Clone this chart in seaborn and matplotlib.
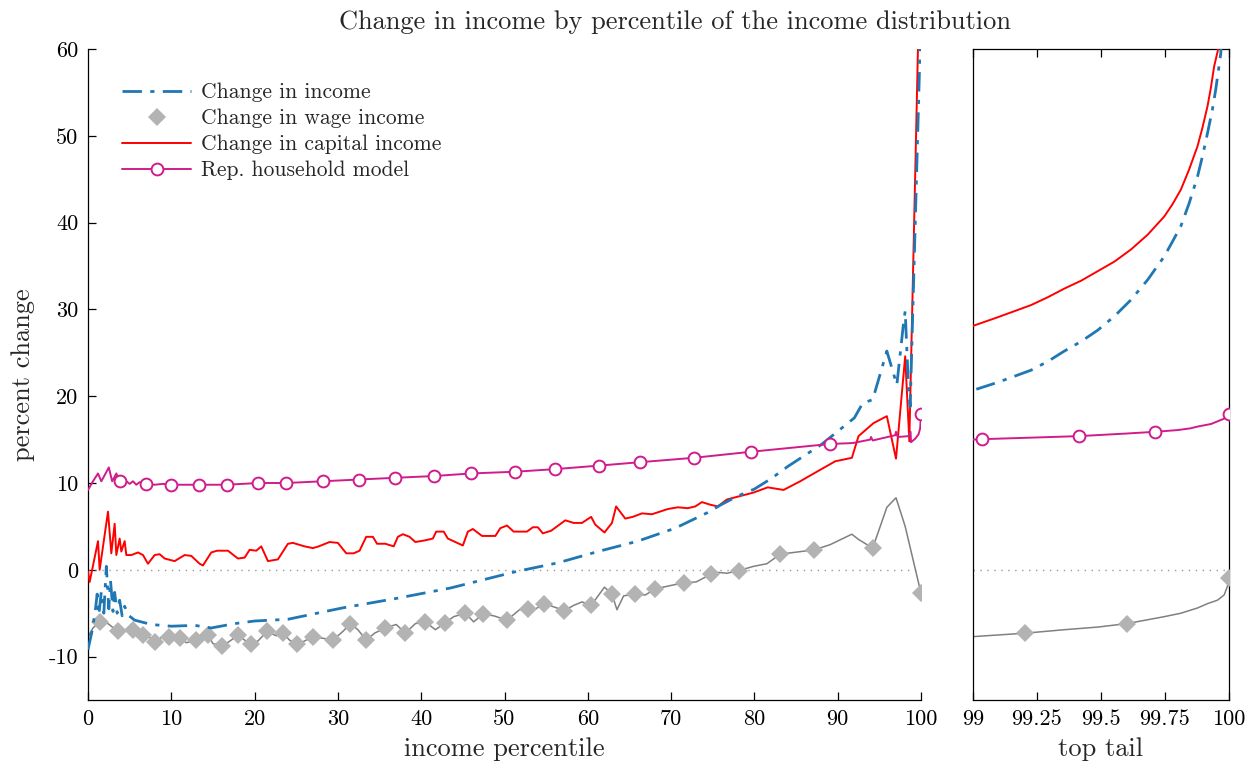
import numpy as np
import pandas as pd
import matplotlib
matplotlib.use('Agg')
import matplotlib.pyplot as plt
from matplotlib.lines import Line2D
import seaborn as sns

# ---- main panel data (percentile 0-100) ----
inc_x = [0, 0.5, 0.9, 1.1, 1.3, 1.6, 1.9, 2.2, 2.5, 2.7, 3.0, 3.2, 3.5, 3.8, 4.1, 4.4, 4.8,
         5.6, 7.6, 10.0, 12.8, 14.8, 17.6, 20.0, 22.0, 24.0, 26.0, 30.5, 37.0, 43.5, 51.4,
         56.4, 61.2, 66.0, 70.5, 74.4, 76.0, 78.0, 80.0, 82.0, 84.0, 88.0, 92.0, 93.0, 94.2,
         95.9, 97.1, 97.9, 98.1, 98.5, 98.7, 100]
inc_y = [-9.2, -7.0, -4.5, -2.8, -5.2, -2.5, -5.0, 0.4, -4.5, -1.2, -4.8, -2.6, -5.0, -3.5, -5.3, -4.2, -5.2,
         -5.8, -6.3, -6.5, -6.4, -6.7, -6.2, -5.9, -5.8, -5.7, -5.3, -4.4, -3.3, -2.1, -0.2,
         0.8, 2.1, 3.3, 4.8, 6.6, 7.5, 8.5, 9.3, 10.5, 11.9, 14.4, 17.5, 19.2, 19.6,
         25.2, 21.3, 28.4, 29.8, 21.0, 18.8, 64.0]

wage_x = [0, 0.6, 1.4, 2.4, 3.6, 4.4, 5.4, 6.0, 6.6, 7.4, 8.0, 8.8, 9.7, 10.4, 11.0, 11.8, 13.0,
          14.1, 14.4, 15.0, 16.1, 17.2, 18.0, 18.8, 19.6, 20.4, 21.5, 22.6, 23.4, 24.2, 25.1,
          26.0, 27.0, 28.3, 29.4, 30.6, 31.5, 32.4, 33.4, 34.4, 35.7, 37.0, 38.1, 39.3, 40.5,
          41.7, 42.9, 43.9, 45.3, 46.3, 47.4, 48.7, 50.3, 51.8, 52.8, 53.6, 54.7, 55.7, 57.2,
          58.3, 59.3, 60.4, 62.0, 62.9, 63.5, 64.3, 65.7, 66.9, 68.1, 70.0, 71.5, 73.0, 74.8,
          75.7, 76.7, 78.1, 79.9, 81.5, 83.1, 87.2, 89.1, 91.7, 92.5, 94.2, 95.9, 97.0, 98.1, 100]
wage_y = [-7.7, -6.7, -6.0, -6.2, -7.1, -6.9, -6.9, -7.6, -7.5, -7.8, -8.3, -7.8, -7.7, -8.1, -7.8, -8.4, -8.1,
          -7.1, -7.5, -8.5, -8.8, -8.1, -7.5, -8.1, -8.5, -8.2, -7.1, -7.6, -7.3, -8.1, -8.6,
          -8.2, -7.7, -7.9, -8.1, -7.1, -6.2, -6.9, -8.1, -7.3, -6.7, -6.3, -7.3, -6.2, -6.0,
          -6.9, -6.1, -5.4, -5.0, -6.0, -5.1, -5.3, -5.8, -4.6, -4.5, -4.6, -3.9, -4.2, -4.7,
          -4.1, -3.7, -4.1, -2.0, -2.8, -4.6, -3.0, -2.8, -2.9, -2.2, -1.8, -1.5, -1.4, -0.5,
          -0.3, -0.4, -0.1, 0.4, 0.7, 1.8, 2.3, 2.9, 4.1, 3.5, 2.5, 7.2, 8.3, 5.0, -2.7]
wage_marks = [1.4, 3.6, 5.4, 6.6, 8.0, 9.7, 11.0, 13.0, 14.4, 16.1, 18.0, 19.6, 21.5, 23.4, 25.1,
              27.0, 29.4, 31.5, 33.4, 35.7, 38.1, 40.5, 42.9, 45.3, 47.4, 50.3, 52.8, 54.7, 57.2,
              60.4, 62.9, 65.7, 68.1, 71.5, 74.8, 78.1, 83.1, 87.2, 94.2, 100]

cap_x = [0, 0.2, 1.2, 1.4, 2.4, 2.8, 3.2, 3.4, 3.8, 4.0, 4.4, 4.6, 5.2, 6.0, 6.6, 7.2, 8.0, 8.6,
         9.2, 10.4, 11.6, 12.4, 13.4, 13.8, 14.8, 15.5, 16.8, 18.0, 18.8, 19.4, 20.2, 20.8,
         21.6, 22.8, 24.0, 24.6, 26.0, 27.0, 27.7, 29.0, 30.0, 31.0, 31.9, 32.6, 33.4, 34.2,
         34.7, 35.7, 36.7, 37.2, 37.8, 38.6, 39.3, 40.5, 41.4, 41.8, 42.7, 43.2, 45.0, 45.6,
         46.2, 47.3, 48.9, 49.5, 50.3, 51.1, 52.7, 53.4, 54.0, 54.6, 55.6, 57.3, 58.3, 59.3,
         60.4, 60.9, 62.0, 62.9, 63.4, 64.5, 65.4, 66.5, 67.7, 69.6, 70.8, 72.0, 72.9, 73.7,
         74.7, 75.6, 76.7, 77.9, 79.9, 81.6, 83.5, 85.5, 87.5, 89.7, 91.7, 92.5, 94.3, 95.9,
         97.0, 98.1, 98.6, 100]
cap_y = [-0.2, -1.4, 3.3, 0.0, 6.7, 1.9, 5.3, 1.7, 3.6, 2.1, 3.3, 1.7, 1.7, 2.0, 1.7, 0.7, 1.7, 1.8,
         1.3, 1.0, 1.7, 1.6, 0.7, 0.5, 2.0, 2.2, 2.2, 1.3, 1.4, 2.3, 2.2, 2.7,
         1.0, 1.2, 3.0, 3.1, 2.7, 2.5, 2.7, 3.2, 3.1, 1.9, 1.9, 2.2, 3.8, 3.8,
         3.0, 3.0, 2.7, 3.8, 4.1, 3.8, 3.2, 3.4, 3.6, 4.4, 4.4, 3.6, 2.8, 4.4,
         4.7, 3.9, 3.9, 4.8, 5.1, 4.4, 4.4, 4.9, 4.9, 4.2, 4.5, 5.7, 5.4, 5.4,
         6.1, 5.2, 4.3, 5.4, 7.3, 5.9, 6.1, 6.5, 6.4, 7.0, 7.2, 7.1, 7.3, 7.8,
         7.5, 7.3, 8.1, 8.4, 8.9, 9.5, 9.2, 10.2, 11.3, 12.5, 12.9, 15.4, 16.9, 17.7,
         12.8, 24.6, 14.8, 76.0]

rep_x = [0, 0.6, 1.2, 1.6, 2.0, 2.5, 2.9, 3.4, 3.8, 4.6, 5.0, 5.4, 5.8, 6.2, 7.0, 8.0, 9.0, 10.0,
         13.3, 16.7, 20.4, 23.8, 28.2, 32.5, 36.9, 41.5, 46.0, 51.3, 56.1, 61.3, 66.3, 72.7,
         79.6, 89.1, 91.8, 93.9, 94.0, 94.2, 96.9, 97.0, 97.2, 98.5, 98.75, 98.8, 99.3, 99.7,
         99.9, 100]
rep_y = [9.2, 10.2, 11.1, 10.2, 10.9, 11.8, 10.2, 11.1, 10.25, 10.2, 9.9, 10.2, 9.8, 10.1, 9.9, 9.8, 9.9, 9.8,
         9.8, 9.8, 10.0, 10.0, 10.2, 10.4, 10.6, 10.8, 11.1, 11.3, 11.6, 12.0, 12.4, 12.9,
         13.6, 14.5, 14.6, 15.0, 15.3, 14.9, 15.5, 15.9, 15.3, 15.4, 15.9, 14.7, 15.1, 15.6,
         16.3, 18.0]
rep_marks = [3.8, 7.0, 10.0, 13.3, 16.7, 20.4, 23.8, 28.2, 32.5, 36.9, 41.5, 46.0, 51.3, 56.1,
             61.3, 66.3, 72.7, 79.6, 89.1, 100]

# ---- top tail panel data (percentile 99-100) ----
tail_inc_x = [99.013, 99.097, 99.162, 99.227, 99.292, 99.357, 99.422, 99.487, 99.552, 99.617,
              99.682, 99.747, 99.779, 99.812, 99.844, 99.877, 99.896, 99.916, 99.935, 99.948,
              99.968, 100]
tail_inc_y = [20.8, 21.6, 22.3, 23.0, 24.0, 25.2, 26.3, 27.6, 29.2, 31.1,
              33.4, 36.1, 37.8, 39.6, 42.2, 45.3, 47.6, 50.3, 53.0, 55.3,
              59.5, 80.0]

tail_cap_x = [99.0, 99.097, 99.162, 99.227, 99.292, 99.357, 99.422, 99.487, 99.552, 99.617,
              99.682, 99.747, 99.779, 99.812, 99.844, 99.877, 99.896, 99.916, 99.929, 99.942,
              99.957, 100]
tail_cap_y = [28.1, 29.1, 29.8, 30.5, 31.4, 32.4, 33.3, 34.4, 35.5, 36.9,
              38.6, 40.7, 42.1, 43.8, 46.1, 48.8, 50.9, 53.4, 55.5, 58.0,
              59.9, 90.0]

tail_wage_x = [99.0, 99.205, 99.357, 99.487, 99.601, 99.747, 99.812, 99.877, 99.916, 99.955,
               99.981, 99.994, 100]
tail_wage_y = [-7.7, -7.3, -6.9, -6.6, -6.2, -5.4, -5.0, -4.4, -3.9, -3.5,
               -2.9, -1.9, -0.9]
tail_wage_marks = [99.205, 99.601, 100]

tail_rep_x = [99.0, 99.035, 99.2, 99.413, 99.6, 99.712, 99.8, 99.85, 99.877, 99.93, 99.955,
              99.98, 99.994, 100]
tail_rep_y = [15.0, 15.05, 15.2, 15.4, 15.7, 15.9, 16.1, 16.3, 16.5, 16.8, 17.1,
              17.4, 17.7, 18.0]
tail_rep_marks = [99.035, 99.413, 99.712, 100]

labels = ['Change in income', 'Change in wage income', 'Change in capital income', 'Rep. household model']

c_inc = '#1f77b4'
c_wage = '#808080'
c_wage_mk = '#b3b3b3'
c_cap = '#ff0000'
c_rep = '#d01c8b'

sns.set_theme(style='ticks')
plt.rcParams['font.family'] = ['cmr10', 'DejaVu Serif']
plt.rcParams['mathtext.fontset'] = 'cm'
plt.rcParams['axes.unicode_minus'] = False
plt.rcParams['axes.formatter.use_mathtext'] = False

fig = plt.figure(figsize=(12.51, 7.70), dpi=100)
ax = fig.add_axes([88/1251, 1-700/770, 833/1251, 651/770])
ax2 = fig.add_axes([973/1251, 1-700/770, 256/1251, 651/770])


def draw(a, ix, iy, wx, wy, wm, cx, cy, rx, ry, rm):
    a.axhline(0, color='#999999', lw=1, ls=(0, (1, 4)), zorder=1)
    sns.lineplot(x=wx, y=wy, ax=a, color=c_wage, lw=1.1, sort=False, estimator=None, zorder=2)
    wi = [wx.index(v) for v in wm]
    sns.lineplot(x=[wx[i] for i in wi], y=[wy[i] for i in wi], ax=a, color=c_wage_mk, lw=0,
                 marker='D', markersize=9, markeredgewidth=0, sort=False, estimator=None, zorder=3)
    sns.lineplot(x=cx, y=cy, ax=a, color=c_cap, lw=1.4, sort=False, estimator=None, zorder=4)
    sns.lineplot(x=ix, y=iy, ax=a, color=c_inc, lw=2.0, sort=False, estimator=None,
                 zorder=5).lines[-1].set_dashes([7, 3, 1.5, 3])
    ri = [rx.index(v) for v in rm]
    sns.lineplot(x=rx, y=ry, ax=a, color=c_rep, lw=1.4, marker='o', markersize=8.5,
                 markerfacecolor='white', markeredgecolor=c_rep, markeredgewidth=1.4,
                 markevery=ri, sort=False, estimator=None, zorder=6)


draw(ax, inc_x, inc_y, wage_x, wage_y, wage_marks, cap_x, cap_y, rep_x, rep_y, rep_marks)
draw(ax2, tail_inc_x, tail_inc_y, tail_wage_x, tail_wage_y, tail_wage_marks,
     tail_cap_x, tail_cap_y, tail_rep_x, tail_rep_y, tail_rep_marks)

for a in (ax, ax2):
    a.set_ylim(-15, 60)
    a.tick_params(direction='in', length=6, width=0.9, labelsize=16, colors='black', pad=7)
    for s in a.spines.values():
        s.set_color('black')
        s.set_linewidth(0.9)

ax.set_xlim(0, 100)
ax.set_xticks(range(0, 101, 10))
ax.set_yticks(range(-10, 61, 10))
ax.spines['top'].set_visible(False)
ax.spines['right'].set_visible(False)
ax.set_xlabel('income percentile', fontsize=19, labelpad=6)
ax.set_ylabel('percent change', fontsize=19, labelpad=10)

ax2.set_xlim(99, 100)
ax2.set_xticks([99, 99.25, 99.5, 99.75, 100])
ax2.set_xticklabels(['99', '99.25', '99.5', '99.75', '100'])
ax2.set_yticks([])
ax2.tick_params(top=True, bottom=True)
ax2.set_xlabel('top tail', fontsize=19, labelpad=6)
ax2.set_ylabel('')

handles = [
    Line2D([], [], color=c_inc, lw=2.0, dashes=[7, 3, 1.5, 3]),
    Line2D([], [], color=c_wage_mk, lw=0, marker='D', markersize=9, markeredgewidth=0),
    Line2D([], [], color=c_cap, lw=1.4),
    Line2D([], [], color=c_rep, lw=1.4, marker='o', markersize=8.5, markerfacecolor='white',
           markeredgecolor=c_rep, markeredgewidth=1.4),
]
ax.legend(handles, labels, loc='upper left', bbox_to_anchor=(0.018, 0.978), frameon=False,
          fontsize=15.5, handlelength=3.2, handletextpad=0.45, labelspacing=0.3)

fig.text(675/1251, 1-22/770, 'Change in income by percentile of the income distribution',
         ha='center', va='center', fontsize=19)

fig.savefig('out.png', dpi=100)
